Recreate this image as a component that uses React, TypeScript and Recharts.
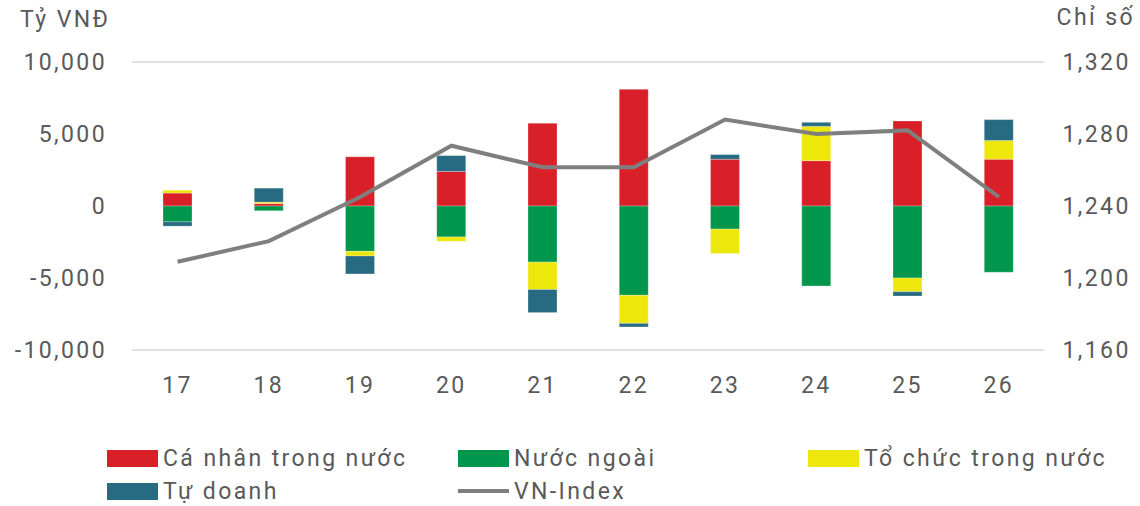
import React from "react";
import {
  ComposedChart,
  Bar,
  Line,
  XAxis,
  YAxis,
  CartesianGrid,
} from "recharts";

// weeks shown on the category axis
const weeks = ["17", "18", "19", "20", "21", "22", "23", "24", "25", "26"];

// net trading value, billion VND
const caNhan = [900, 170, 3420, 2400, 5750, 8100, 3250, 3150, 5900, 3250];
const nuocNgoai = [-1100, -330, -3150, -2150, -3900, -6200, -1600, -5550, -5000, -4600];
const toChuc = [200, 100, -320, -300, -1900, -1950, -1700, 2380, -950, 1300];
const tuDoanh = [-300, 970, -1250, 1100, -1600, -250, 320, 280, -300, 1450];

// VN-Index close
const vnIndex = [1209, 1220.5, 1245, 1273.5, 1261.5, 1261.5, 1288, 1280, 1282, 1245];

const leftTicks = [-10000, -5000, 0, 5000, 10000];
const rightTicks = [1160, 1200, 1240, 1280, 1320];

const data = weeks.map((w, i) => ({
  week: w,
  caNhan: caNhan[i],
  nuocNgoai: nuocNgoai[i],
  toChuc: toChuc[i],
  tuDoanh: tuDoanh[i],
  vnIndex: vnIndex[i],
}));

const RED = "#d92029";
const GREEN = "#00964b";
const YELLOW = "#ede70b";
const TEAL = "#276b82";
const LINE = "#7f7f7f";
const TEXT = "#595959";
const FONT = "Roboto, sans-serif";
const LS = 2.4;

const fmt = (v: number) => v.toLocaleString("en-US");

const legendItems = [
  { label: "Cá nhân trong nước", color: RED, x: 107, y: 458 },
  { label: "Nước ngoài", color: GREEN, x: 458, y: 458 },
  { label: "Tổ chức trong nước", color: YELLOW, x: 808, y: 458 },
  { label: "Tự doanh", color: TEAL, x: 107, y: 491 },
  { label: "VN-Index", color: LINE, x: 458, y: 491, line: true },
];

export default function App() {
  const tick = {
    fill: TEXT,
    fontSize: 23,
    fontFamily: FONT,
    letterSpacing: LS,
    style: { letterSpacing: LS },
  };
  return (
    <div
      style={{
        position: "absolute",
        left: 0,
        top: 0,
        width: 1140,
        height: 506,
        background: "#fff",
        fontFamily: FONT,
        color: TEXT,
        letterSpacing: LS,
      }}
    >
      <ComposedChart
        width={1140}
        height={506}
        data={data}
        stackOffset="sign"
        margin={{ top: 62, right: 0, left: 0, bottom: 116 }}
      >
        <CartesianGrid vertical={false} stroke="#d9d9d9" strokeWidth={1.5} />
        <XAxis
          dataKey="week"
          axisLine={false}
          tickLine={false}
          tickSize={0}
          tickMargin={27}
          height={40}
          tick={tick}
        />
        <YAxis
          yAxisId="left"
          width={132}
          domain={[-10000, 10000]}
          ticks={leftTicks}
          tickFormatter={fmt}
          axisLine={false}
          tickLine={false}
          tickSize={0}
          tickMargin={25}
          tick={tick}
        />
        <YAxis
          yAxisId="right"
          orientation="right"
          width={95.5}
          domain={[1160, 1320]}
          ticks={rightTicks}
          tickFormatter={fmt}
          axisLine={false}
          tickLine={false}
          tickSize={0}
          tickMargin={18}
          tick={tick}
        />
        <Bar yAxisId="left" dataKey="caNhan" stackId="a" fill={RED} barSize={29} stroke="#fff" strokeOpacity={0.5} strokeWidth={0.5} isAnimationActive={false} />
        <Bar yAxisId="left" dataKey="nuocNgoai" stackId="a" fill={GREEN} barSize={29} stroke="#fff" strokeOpacity={0.5} strokeWidth={0.5} isAnimationActive={false} />
        <Bar yAxisId="left" dataKey="toChuc" stackId="a" fill={YELLOW} barSize={29} stroke="#fff" strokeOpacity={0.5} strokeWidth={0.5} isAnimationActive={false} />
        <Bar yAxisId="left" dataKey="tuDoanh" stackId="a" fill={TEAL} barSize={29} stroke="#fff" strokeOpacity={0.5} strokeWidth={0.5} isAnimationActive={false} />
        <Line
          yAxisId="right"
          dataKey="vnIndex"
          stroke={LINE}
          strokeWidth={4}
          dot={false}
          isAnimationActive={false}
        />
      </ComposedChart>

      <div style={{ position: "absolute", left: 20, top: 6, fontSize: 23 }}>Tỷ VNĐ</div>
      <div style={{ position: "absolute", right: 5, top: 4, fontSize: 23 }}>Chỉ số</div>

      {legendItems.map((it) => (
        <div
          key={it.label}
          style={{
            position: "absolute",
            left: it.x,
            top: it.y - 15,
            height: 30,
            display: "flex",
            alignItems: "center",
            fontSize: 23,
            whiteSpace: "nowrap",
          }}
        >
          {it.line ? (
            <span style={{ width: 51, height: 4, background: it.color, marginRight: 5 }} />
          ) : (
            <span style={{ width: 51, height: 17, background: it.color, marginRight: 5 }} />
          )}
          <span>{it.label}</span>
        </div>
      ))}
    </div>
  );
}
